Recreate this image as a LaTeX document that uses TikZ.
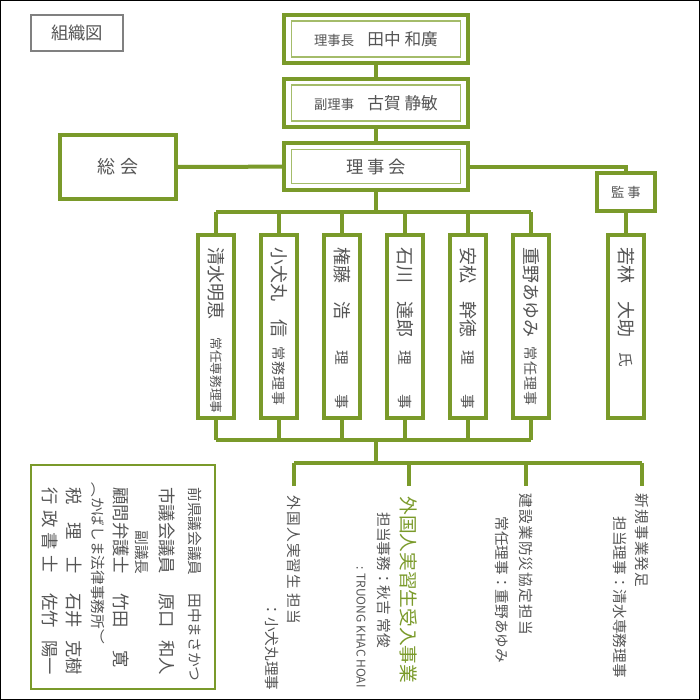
\documentclass[tikz,border=0pt]{standalone}
\usepackage{fontspec}
\setmainfont{Noto Sans CJK JP}
\newfontfamily\vjp[Vertical=RotatedGlyphs]{Noto Sans CJK JP}
\newfontfamily\vjpsp[Vertical=RotatedGlyphs, LetterSpace=8]{Noto Sans CJK JP}
\newfontfamily\vjpwide[Vertical=RotatedGlyphs, LetterSpace=30]{Noto Sans CJK JP}
\definecolor{leaf}{HTML}{7A9A2A}
\definecolor{leaflight}{HTML}{A4BC6A}
\definecolor{ink}{HTML}{555555}
\tikzset{every picture/.style={line width=0.75pt}}
\tikzset{
  frame/.style={draw=leaf, line width=3pt, fill=white},
  inframe/.style={draw=leaflight, line width=0.9pt},
  member/.style={frame, minimum width=27pt, minimum height=137pt, inner sep=0pt},
  link/.style={draw=leaf, line width=3pt},
  vcol/.style={rotate=-90, anchor=west, inner sep=0pt, text=ink, font=\vjp\fontsize{11}{11}\selectfont},
  vspaced/.style={vcol, font=\vjpsp\fontsize{11}{11}\selectfont},
  vname/.style={vcol, font=\vjp\fontsize{13.5}{13.5}\selectfont},
  vtitle/.style={vcol, font=\vjp\fontsize{9.5}{9.5}\selectfont},
  vbig/.style={vcol, font=\vjp\fontsize{13}{13}\selectfont},
}
\begin{document}
\begin{tikzpicture}[x=0.75pt,y=0.75pt,yscale=-1,xscale=1]
\useasboundingbox (0,0) rectangle (700,700);
\draw[black] (0.5,0.5) rectangle (699.5,699.5);

% title
\node[draw=gray, line width=1.5pt, minimum width=69pt, minimum height=27pt, text=ink, font=\fontsize{13}{13}\selectfont] (title) at (77,33) {組織図};

% upper boxes
\node[frame, minimum width=138pt, minimum height=36pt] (chair) at (376,39) {};
\node[inframe, minimum width=127pt, minimum height=27pt, text=ink] at (chair) {{\fontsize{10}{10}\selectfont 理事長}\quad{\fontsize{12.5}{12.5}\selectfont 田中 和廣}};
\node[frame, minimum width=138pt, minimum height=36pt] (vice) at (376,103) {};
\node[inframe, minimum width=127pt, minimum height=27pt, text=ink] at (vice) {{\fontsize{10}{10}\selectfont 副理事}\quad{\fontsize{12.5}{12.5}\selectfont 古賀 静敏}};
\node[frame, minimum width=138pt, minimum height=35pt] (board) at (376,166.5) {};
\node[inframe, minimum width=127pt, minimum height=26pt, text=ink, font=\fontsize{13}{13}\selectfont] at (board) {理 事 会};
\node[frame, minimum width=87pt, minimum height=48pt, text=ink, font=\fontsize{13.5}{13.5}\selectfont] (general) at (118,167) {総 会};
\node[frame, minimum width=43pt, minimum height=28pt, text=ink, font=\fontsize{10}{10}\selectfont] (audit) at (626,192) {監 事};

\draw[link] (chair) -- (vice);
\draw[link] (vice) -- (board);
\draw[link] (general) -- (board);
\draw[link] (board.east) -| (audit.north);

% members
\coordinate (bus) at (376,212);
\coordinate (lowbus) at (376,440);
\coordinate (subbus) at (376,463);
\draw[link] (board.south) -- (bus);
\draw[link] (216,212) -- (531,212);
\draw[link] (216,440) -- (531,440);
\draw[link] (lowbus) -- (subbus);
\draw[link] (294,463) -- (642,463);
\foreach \cx/\nm in {216/m1,279/m2,342/m3,405/m4,468/m5,531/m6}{
  \draw[link] (\cx,212) -- (\cx,440);
  \node[member] (\nm) at (\cx,326.5) {};
}
\draw[link] (audit) -- (626,240);
\node[member] (m7) at (626,326.5) {};
\foreach \cx in {294,409,526,642}{
  \draw[link] (\cx,463) -- (\cx,486);
}

% names
\node[vname] at (216,247) {清水明恵};
\node[vtitle] at (216,337) {常任専務理事};
\node[vname] at (279,247) {小犬丸　信};
\node[vtitle, font=\vjpsp\fontsize{10.5}{10.5}\selectfont] at (279,346) {常務理事};
\node[vname] at (342,247) {権藤　浩};
\node[vname] at (405,247) {石川　達郎};
\node[vname] at (468,247) {安松　幹徳};
\foreach \cx in {342,405,468}{
  \node[vtitle, font=\vjp\fontsize{11}{11}\selectfont] at (\cx,350) {理　　事};
}
\node[vname] at (531,247) {重野あゆみ};
\node[vtitle, font=\vjpsp\fontsize{10.5}{10.5}\selectfont] at (531,346) {常任理事};
\node[vname] at (626,247) {若林　大助};
\node[vtitle, font=\vjp\fontsize{11}{11}\selectfont] at (626,352) {氏};

% duties
\node[vspaced] at (294,495) {外国人実習生 担当};
\node[vcol] at (272,602) {：小犬丸理事};
\node[vcol, text=leaf, font=\vjp\fontsize{14}{14}\selectfont] at (409,496) {外国人実習生受入事業};
\node[vcol] at (384,512) {担当事務：秋吉 常俊};
\node[vcol, font=\vjp\fontsize{9}{9}\selectfont] at (361,566) {: TRUONG KHAC HOAI};
\node[vspaced] at (526,493) {建設業防災協定担当};
\node[vcol] at (502,516) {常任理事：重野あゆみ};
\node[vspaced] at (642,493) {新規事業発足};
\node[vcol] at (620,516) {担当理事：清水専務理事};

% advisers
\node[draw=leaf, line width=1.5pt, minimum width=138pt, minimum height=168pt] (adv) at (122.5,577) {};
\node[vcol] at (195,487) {前県議会議員};
\node[vcol] at (195,593) {田中まさかつ};
\node[vbig] at (167,487) {市議会議員};
\node[vbig] at (167,593) {原口};
\node[vbig] at (167,640) {和人};
\node[vcol] at (142,530) {副議長};
\node[vbig] at (121,487) {顧問弁護士};
\node[vbig] at (121,593) {竹田};
\node[vbig] at (121,650) {寛};
\node[vcol] at (98,482) {（かばしま法律事務所）};
\node[vbig] at (74,487) {税　理　士};
\node[vbig] at (74,593) {石井};
\node[vbig] at (74,640) {克樹};
\node[vcol, font=\vjpwide\fontsize{13}{13}\selectfont] at (50,487) {行政書士};
\node[vbig] at (50,593) {佐竹};
\node[vbig] at (50,640) {陽一};
\end{tikzpicture}
\end{document}
